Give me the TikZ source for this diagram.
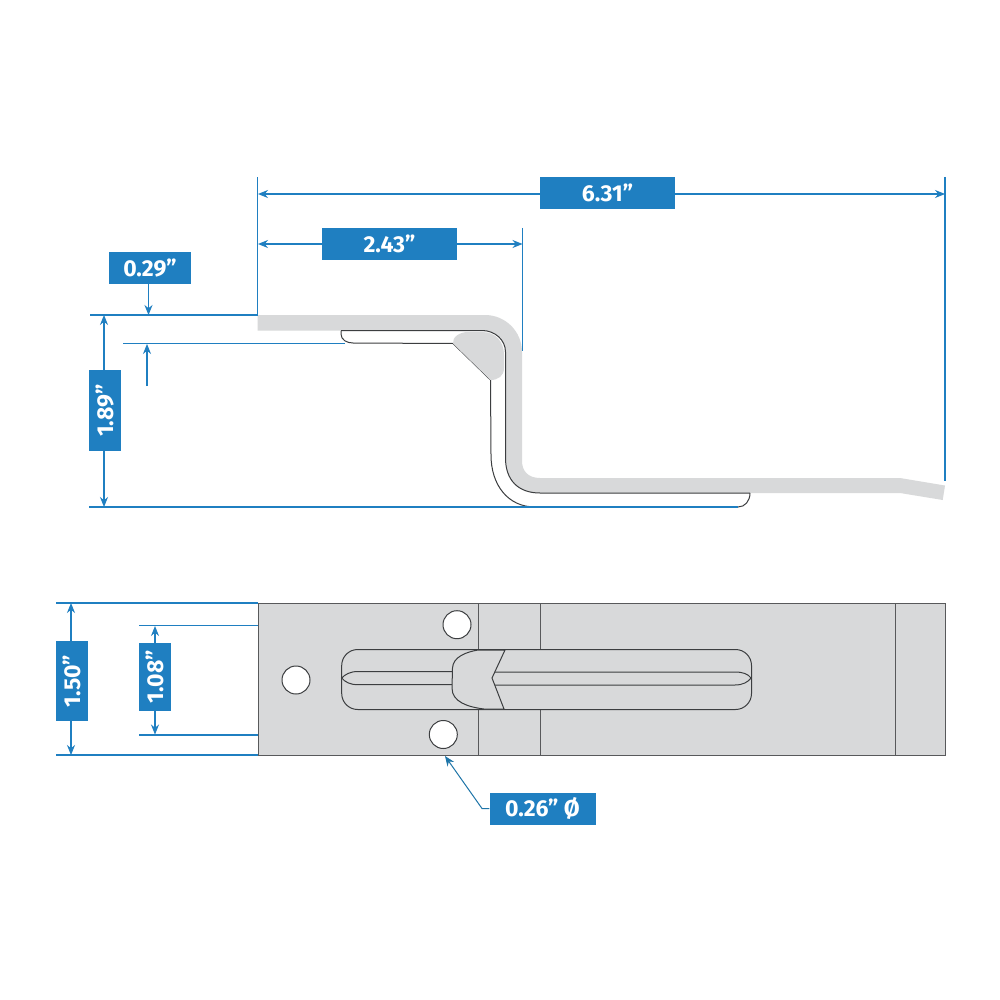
\documentclass[tikz,border=0pt]{standalone}
\usepackage{fontspec}
\setmainfont{Fira Sans}
\usetikzlibrary{arrows.meta}
\definecolor{dimblue}{HTML}{1F7FC1}
\definecolor{linkblue}{HTML}{1E75A8}
\definecolor{plategrey}{HTML}{D8D9DA}
\definecolor{inkgrey}{HTML}{3C3E40}
\definecolor{planink}{HTML}{58595B}
\tikzset{
  x=1pt,y=-1pt,
  dimbox/.style={fill=dimblue,text=white,font=\fontsize{23}{23}\selectfont\bfseries,inner sep=0pt,anchor=center},
  dimline/.style={draw=dimblue,line width=1.1pt},
  dimarrow/.style={dimline,-{Stealth[length=10pt,width=8pt]}},
  ink/.style={draw=inkgrey,line width=1pt},
  planline/.style={draw=planink,line width=1pt},
  hole/.style={circle,draw=inkgrey,line width=1pt,fill=white,minimum size=28pt,inner sep=0pt},
}
\begin{document}
\begin{tikzpicture}
\useasboundingbox (0,0) rectangle (1000,1000);
\fill[white] (0,0) rectangle (1000,1000);

% ---------- side view ----------
% clip plate (white with outline)
\path[fill=white,ink] (341,330.5) -- (341,334) .. controls (341,340) and (347,343) .. (353,343)
  -- (453,343.5) -- (490.5,380) -- (491,455) .. controls (491,485) and (508,507) .. (535,507)
  -- (738,507) .. controls (745,507) and (750,501) .. (750,493);
% bent strip
\path[fill=plategrey] (257.5,315) -- (485,315) .. controls (505.5,315) and (522,331.5) .. (522,352)
  -- (522,461) .. controls (522,471) and (528,478) .. (540,478) -- (900,478) -- (945,485.5)
  -- (942.7,500) -- (900,493) -- (540,493) .. controls (518,493) and (505.5,480) .. (505.5,458)
  -- (505.5,352) .. controls (505.5,340) and (495,330.5) .. (482,330.5) -- (257.5,330.5) -- cycle;
% weld blob
\path[fill=plategrey] (453,343.5) .. controls (452,337) and (460,332) .. (468,332)
  -- (482,332) .. controls (496,332) and (504,342) .. (504,355) -- (504,368)
  .. controls (504,376) and (498,380) .. (490.5,380) -- cycle;
% strip inner edge
\draw[ink] (341,330.5) -- (482,330.5) .. controls (495,330.5) and (505.5,340) .. (505.5,352)
  -- (505.5,458) .. controls (505.5,480) and (518,493) .. (540,493) -- (750,493);

% side-view dimension geometry
\coordinate (sTL) at (257.5,315);
\coordinate (sExtL) at (90,315);
\coordinate (s2Top) at (123,343.5);
\coordinate (s2End) at (345,343.5);
\coordinate (sBotL) at (89,507);
\coordinate (sBotR) at (738,507);
\draw[dimline] (sExtL) -- (sTL) -- (257.5,177);
\draw[dimline] (s2Top) -- (s2End);
\draw[dimline] (sBotL) -- (sBotR);
\draw[dimline] (945,177) -- (945,481);
\draw[dimline] (522.5,228) -- (522.5,351);

\node[dimbox,minimum width=135pt,minimum height=32pt] (d631) at (607.5,193) {6.31”};
\node[dimbox,minimum width=135pt,minimum height=32pt] (d243) at (389.5,244) {2.43”};
\node[dimbox,minimum width=82pt,minimum height=32pt] (d029) at (150,268) {0.29”};
\node[dimbox,minimum width=81pt,minimum height=32pt,rotate=90] (d189) at (105,410.5) {1.89”};

\coordinate (a631L) at (258,194);
\coordinate (a631R) at (945,194);
\coordinate (a243L) at (258,244);
\coordinate (a243R) at (522.5,244);
\draw[dimarrow] (d631.west |- a631L) -- (a631L);
\draw[dimarrow] (d631.east |- a631R) -- (a631R);
\draw[dimarrow] (d243.west) -- (a243L);
\draw[dimarrow] (d243.east) -- (a243R);
\coordinate (a029) at (148.5,315);
\coordinate (a029b) at (147,386);
\coordinate (a029t) at (147,344);
\draw[dimarrow] (148.5,284) -- (a029);
\draw[dimarrow] (a029b) -- (a029t);
\coordinate (a189T) at (104,315);
\coordinate (a189B) at (104,507);
\draw[dimarrow] (104,370) -- (a189T);
\draw[dimarrow] (104,451) -- (a189B);

% ---------- plan view ----------
\path[fill=plategrey,planline] (258,603) rectangle (945,755);
\draw[planline] (895,603) -- (895,755);
\draw[planline] (478,603) -- (478,649.5);
\draw[planline] (478,709.5) -- (478,755);
\draw[planline] (540,603) -- (540,649.5);
\draw[planline] (540,709.5) -- (540,755);
% slot
\draw[ink,rounded corners=16pt] (341.7,649.5) rectangle (751.5,709.5);
% groove
\draw[ink] (453,671.5) -- (358,671.5) .. controls (350,671.5) and (345,674.5) .. (341.7,678)
  .. controls (345,682) and (350,684.7) .. (358,684.7) -- (453,684.7);
\draw[ink] (494,672) -- (735,672) .. controls (743,672) and (748,674) .. (751,678)
  .. controls (748,682) and (743,685) .. (735,685) -- (494,685);
% latch
\path[fill=plategrey,ink] (505,650) -- (492,678) -- (504,709) -- (484,709)
  .. controls (468,707) and (452,702) .. (452,688) -- (452.5,668)
  .. controls (453,657) and (466,652) .. (478,650) -- cycle;
% holes
\node[hole] (h1) at (457,624.7) {};
\node[hole] (h2) at (443.3,734.5) {};
\node[hole] (h3) at (296,680) {};

% plan-view dimensions
\coordinate (pT) at (258,603);
\coordinate (pB) at (258,755);
\coordinate (pTL) at (56,603);
\coordinate (pBL) at (56,755);
\coordinate (qT) at (258,625.5);
\coordinate (qB) at (258,735);
\coordinate (qTL) at (139,625.5);
\coordinate (qBL) at (139,735);
\draw[dimline] (pTL) -- (pT);
\draw[dimline] (pBL) -- (pB);
\draw[dimline] (qTL) -- (qT);
\draw[dimline] (qBL) -- (qB);

\node[dimbox,minimum width=80pt,minimum height=32pt,rotate=90] (d150) at (71.5,681) {1.50”};
\node[dimbox,minimum width=68pt,minimum height=32pt,rotate=90] (d108) at (155,677) {1.08”};
\coordinate (a150T) at (71,603);
\coordinate (a150B) at (71,755);
\coordinate (a108T) at (155,626);
\coordinate (a108B) at (155,734.5);
\draw[dimarrow] (71,641) -- (a150T);
\draw[dimarrow] (71,721) -- (a150B);
\draw[dimarrow] (155,643) -- (a108T);
\draw[dimarrow] (155,711) -- (a108B);

% hole callout
\node[dimbox,minimum width=106pt,minimum height=32pt] (d026) at (542.5,808.5) {0.26” Ø};
\coordinate (cBend) at (482,808.5);
\coordinate (cTip) at (445,756);
\draw[draw=linkblue,line width=1pt,-{Stealth[length=10pt,width=8pt]}] (d026.west) -- (cBend) -- (cTip);
\end{tikzpicture}
\end{document}
